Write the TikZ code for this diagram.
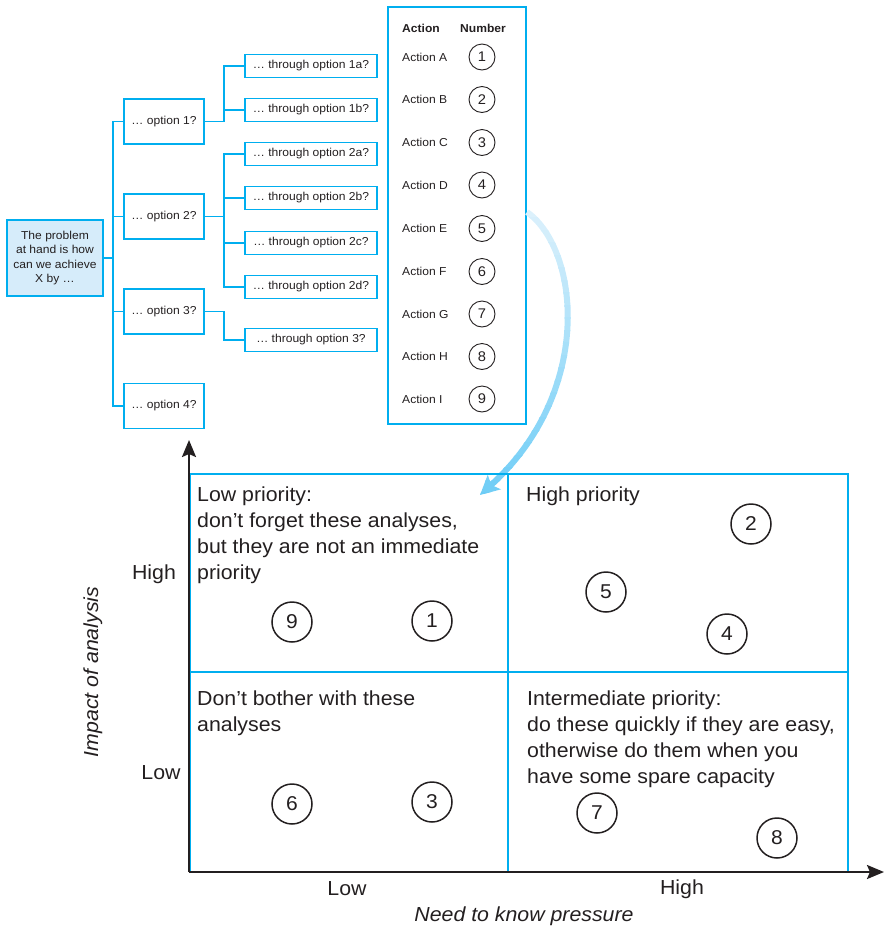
\documentclass[tikz,border=0pt]{standalone}
\usepackage{fontspec}
\setmainfont{Liberation Sans}[FakeStretch=1.05]
\usetikzlibrary{arrows.meta,calc}

\definecolor{cyanline}{RGB}{0,174,239}
\definecolor{rootfill}{RGB}{214,236,250}
\definecolor{ink}{RGB}{35,31,32}
\definecolor{arrowlight}{RGB}{220,241,252}
\definecolor{arrowdark}{RGB}{108,204,246}

\newcommand{\treefont}{\fontsize{11.5}{14.5}\selectfont}
\newcommand{\chartfont}{\fontsize{20.3}{26}\selectfont}

\tikzset{
  tree/.style={draw=cyanline, line width=1.2pt, font=\treefont, text=ink, inner sep=0pt, align=center},
  rootbox/.style={tree, fill=rootfill, minimum width=96pt, minimum height=76pt},
  optbox/.style={tree, minimum width=80pt, minimum height=45pt},
  subbox/.style={tree, minimum width=132pt, minimum height=23pt},
  link/.style={cyanline, line width=1.2pt},
  celltext/.style={font=\treefont, text=ink, inner sep=0pt},
  numsmall/.style={circle, draw=ink, line width=0.9pt, minimum size=26pt, inner sep=0pt, font=\fontsize{14}{16}\selectfont, text=ink},
  numbig/.style={circle, draw=ink, line width=1.5pt, minimum size=40pt, inner sep=0pt, font=\fontsize{20}{22}\selectfont, text=ink},
  axisline/.style={ink, line width=2.3pt, -{Stealth[length=17pt,width=14pt,inset=3pt]}},
  gridline/.style={cyanline, line width=1.3pt},
  quadtext/.style={font=\chartfont, text=ink, align=left, anchor=north west, inner sep=0pt},
  axlabel/.style={font=\chartfont, text=ink, inner sep=0pt},
}

\begin{document}
\begin{tikzpicture}[x=1pt, y=-1pt]
\useasboundingbox (0,0) rectangle (884,927);

% ---------- issue tree ----------
\node[rootbox] (root) at (55,258) {The problem\\at hand is how\\can we achieve\\X by …};

\node[optbox] (o1) at (164,121.5) {… option 1?};
\node[optbox] (o2) at (164,216.5) {… option 2?};
\node[optbox] (o3) at (164,311.5) {… option 3?};
\node[optbox] (o4) at (164,406)   {… option 4?};

\node[subbox] (s1a) at (311,66)  {… through option 1a?};
\node[subbox] (s1b) at (311,110) {… through option 1b?};
\node[subbox] (s2a) at (311,154) {… through option 2a?};
\node[subbox] (s2b) at (311,198) {… through option 2b?};
\node[subbox] (s2c) at (311,243) {… through option 2c?};
\node[subbox] (s2d) at (311,287) {… through option 2d?};
\node[subbox] (s3)  at (311,340) {… through option 3?};

\coordinate (sp1) at (113,0);
\coordinate (sp2) at (224,0);

% first level
\draw[link] (root.east) -- (root.east -| sp1);
\draw[link] (o1.west) -- (o1.west -| sp1) -- (o4.west -| sp1) -- (o4.west);
\draw[link] (o2.west) -- (o2.west -| sp1);
\draw[link] (o3.west) -- (o3.west -| sp1);

% second level
\draw[link] (o1.east) -- (o1.east -| sp2) -- (s1a.west -| sp2) -- (s1a.west);
\draw[link] (s1b.west) -- (s1b.west -| sp2);
\draw[link] (o2.east) -- (o2.east -| sp2);
\draw[link] (s2a.west) -- (s2a.west -| sp2) -- (s2d.west -| sp2) -- (s2d.west);
\draw[link] (s2b.west) -- (s2b.west -| sp2);
\draw[link] (s2c.west) -- (s2c.west -| sp2);
\draw[link] (o3.east) -- (o3.east -| sp2) -- (s3.west -| sp2) -- (s3.west);

% ---------- action table ----------
\node[draw=cyanline, line width=1.2pt, minimum width=138pt, minimum height=417pt, inner sep=0pt] (tbl) at (457,215.5) {};
\node[celltext, anchor=west, font=\treefont\bfseries] (hact) at (402,28) {Action};
\node[celltext, font=\treefont\bfseries] (hnum) at (483,28) {Number};
\foreach \l/\n/\y in {A/1/57, B/2/99.5, C/3/142.5, D/4/185, E/5/228.5, F/6/271.5, G/7/314, H/8/356.5, I/9/399} {
  \node[celltext, anchor=west] (act\l) at (402,\y) {Action \l};
  \node[numsmall] (tn\n) at (482,\y) {\n};
}

% ---------- curved transfer arrow (vertical colour fade) ----------
\coordinate (arrS) at (527,212);
\coordinate (arrE) at (480,495);
\foreach \i in {0,...,23} {
  \pgfmathsetmacro\ya{205+\i*12.5}
  \pgfmathsetmacro\yb{\ya+13.5}
  \pgfmathtruncatemacro\p{\i*100/23}
  \begin{scope}
    \clip (450,\ya) rectangle (640,\yb);
    \draw[line width=6pt, arrowdark!\p!arrowlight, -{Stealth[length=19pt,width=19pt,inset=4pt]}]
      (arrS) .. controls (580,250) and (594,392) .. (arrE);
  \end{scope}
}

% ---------- priority matrix ----------
\coordinate (O) at (189,872);
\draw[gridline] (190,474) rectangle (848,872);
\draw[gridline] (508,474) -- (508,872);
\draw[gridline] (190,672) -- (848,672);

\draw[axisline] (O) -- (189,440);
\draw[axisline] (O) -- (884,872);

\node[quadtext] (qtl) at (197,487) {Low priority:\\don’t forget these analyses,\\but they are not an immediate\\priority};
\node[quadtext] (qtr) at (526,487) {High priority};
\node[quadtext] (qbl) at (197,691) {Don’t bother with these\\analyses};
\node[quadtext] (qbr) at (527,691) {Intermediate priority:\\do these quickly if they are easy,\\otherwise do them when you\\have some spare capacity};

\node[numbig] (m9) at (292,622) {9};
\node[numbig] (m1) at (432,621) {1};
\node[numbig] (m2) at (751,524) {2};
\node[numbig] (m5) at (606,592) {5};
\node[numbig] (m4) at (727,634) {4};
\node[numbig] (m6) at (292,804) {6};
\node[numbig] (m3) at (432,802) {3};
\node[numbig] (m7) at (597,813) {7};
\node[numbig] (m8) at (777,838) {8};

\node[axlabel] (xlow)  at (347,889) {Low};
\node[axlabel] (xhigh) at (682,889) {High};
\node[axlabel, font=\chartfont\itshape] (xname) at (524,916) {Need to know pressure};
\node[axlabel] (yhigh) at (154,574) {High};
\node[axlabel] (ylow)  at (161,773) {Low};
\node[axlabel, font=\chartfont\itshape, rotate=90] (yname) at (93,672) {Impact of analysis};
\end{tikzpicture}
\end{document}
